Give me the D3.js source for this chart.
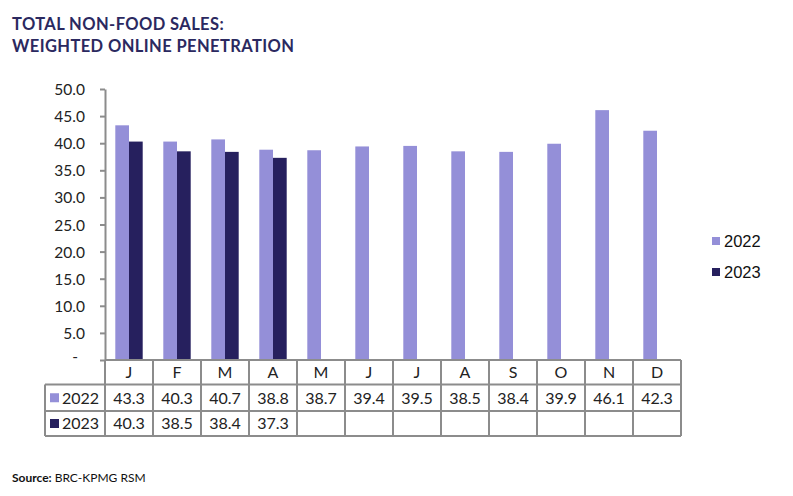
<!DOCTYPE html>
<html><head><meta charset="utf-8">
<script src="https://cdn.jsdelivr.net/npm/d3@7"></script>
<style>
html,body{margin:0;padding:0;background:#fff;}
svg{display:block;}
</style></head>
<body>
<svg id="chart" width="793" height="496"></svg>
<script>
const months = ["J","F","M","A","M","J","J","A","S","O","N","D"];
const series = ["2022","2023"];
const values2022 = [43.3,40.3,40.7,38.8,38.7,39.4,39.5,38.5,38.4,39.9,46.1,42.3];
const values2023 = [40.3,38.5,38.4,37.3,null,null,null,null,null,null,null,null];
const yTicks = [0,5,10,15,20,25,30,35,40,45,50];
const colors = ["#948fd8","#26205e"];
const titleLines = ["TOTAL NON-FOOD SALES:","WEIGHTED ONLINE PENETRATION"];

(function(){
const svg = d3.select("#chart");
const pLeft = 105, pRight = 681, pTop = 89, pBottom = 360;
const gridColor = "#8c8c8c";

const x = d3.scaleBand().domain(d3.range(months.length)).range([pLeft,pRight]).paddingInner(0).paddingOuter(0);
const y = d3.scaleLinear().domain([0,50]).range([pBottom, pTop]);
const barW = 13.7;
const xs = d3.scaleBand().domain(series).range([-barW, barW]);

// title
svg.append("g").selectAll("text").data(titleLines).join("text")
  .attr("x",12).attr("y",(d,i)=>30+i*21.5)
  .attr("font-family","Lato").attr("font-weight","bold").attr("font-size",16.5)
  .attr("letter-spacing",0.4)
  .attr("fill","#2b2960").text(d=>d);

// bars
const data = [values2022, values2023];
const gb = svg.append("g");
series.forEach((s,si)=>{
  gb.selectAll(null).data(data[si].map((v,i)=>({v,i})).filter(d=>d.v!=null)).join("rect")
    .attr("x",d=>x(d.i)+x.bandwidth()/2+xs(s))
    .attr("width",xs.bandwidth())
    .attr("y",d=>y(d.v))
    .attr("height",d=>pBottom-y(d.v))
    .attr("fill",colors[si]);
});

// y axis
const yAxis = d3.axisLeft(y).tickValues(yTicks).tickSize(5).tickSizeOuter(0)
  .tickFormat(d=>d===0?"-":d3.format(".1f")(d));
const ga = svg.append("g").attr("transform",`translate(${pLeft},0)`).call(yAxis);
ga.select(".domain").attr("stroke",gridColor).attr("stroke-width",2);
ga.selectAll(".tick line").attr("stroke",gridColor).attr("stroke-width",2);
ga.selectAll(".tick text").attr("font-family","Lato").attr("font-size",15.5).attr("fill","#222")
  .attr("x",-20).attr("dy","0.36em");
ga.selectAll(".tick text").filter(d=>d===0).attr("x",-27).attr("dy","0.1em");

// table
const rowsY = [360, 384.5, 411, 436];
const tg = svg.append("g");
const lineAttr = sel => sel.attr("stroke",gridColor).attr("stroke-width",2);
tg.append("line").attr("x1",pLeft).attr("x2",pRight).attr("y1",rowsY[0]).attr("y2",rowsY[0]).call(lineAttr);
[1,2,3].forEach(k=>{
  tg.append("line").attr("x1",45).attr("x2",pRight).attr("y1",rowsY[k]).attr("y2",rowsY[k]).call(lineAttr);
});
d3.range(months.length+1).forEach(i=>{
  const xx = i<months.length ? x(i) : pRight;
  tg.append("line").attr("x1",xx).attr("x2",xx).attr("y1",rowsY[0]).attr("y2",rowsY[3]).call(lineAttr);
});
tg.append("line").attr("x1",45).attr("x2",45).attr("y1",rowsY[1]).attr("y2",rowsY[3]).call(lineAttr);

tg.selectAll(null).data(months).join("text")
  .attr("x",(d,i)=>x(i)+x.bandwidth()/2).attr("y",(rowsY[0]+rowsY[1])/2)
  .attr("dy","0.36em").attr("text-anchor","middle")
  .attr("font-family","Lato").attr("font-size",16).attr("fill","#222").text(d=>d);
series.forEach((s,si)=>{
  const cy = (rowsY[si+1]+rowsY[si+2])/2;
  tg.append("rect").attr("x",50).attr("y",cy-4.5).attr("width",9).attr("height",9).attr("fill",colors[si]);
  tg.append("text").attr("x",62).attr("y",cy).attr("dy","0.36em")
    .attr("font-family","Lato").attr("font-size",16).attr("fill","#222").text(s);
  tg.selectAll(null).data(data[si].map((v,i)=>({v,i})).filter(d=>d.v!=null)).join("text")
    .attr("x",d=>x(d.i)+x.bandwidth()/2).attr("y",cy).attr("dy","0.36em").attr("text-anchor","middle")
    .attr("font-family","Lato").attr("font-size",16).attr("fill","#222").text(d=>d3.format(".1f")(d.v));
});

// legend
const lg = svg.append("g");
series.forEach((s,si)=>{
  const cy = 241 + si*31;
  lg.append("rect").attr("x",712).attr("y",cy-4).attr("width",8).attr("height",8).attr("fill",colors[si]);
  lg.append("text").attr("x",724).attr("y",cy).attr("dy","0.36em")
    .attr("font-family","Liberation Sans, Arial").attr("font-size",16.5).attr("fill","#111").text(s);
});

// source
const st = svg.append("text").attr("x",12).attr("y",482).attr("font-family","Lato").attr("font-size",12).attr("fill","#111");
st.append("tspan").attr("font-weight","bold").text("Source: ");
st.append("tspan").text("BRC-KPMG RSM");
})();
</script>
</body></html>
